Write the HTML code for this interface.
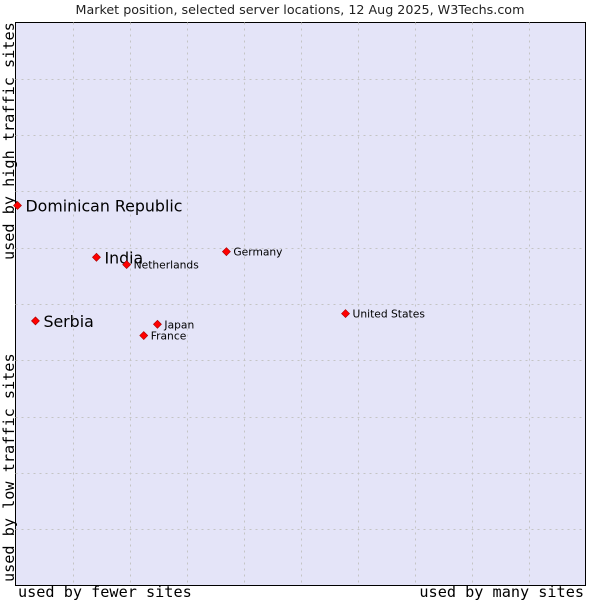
<!DOCTYPE html>
<html><head><meta charset="utf-8"><style>
body{margin:0;background:#fff;}
svg{display:block;}
</style></head><body>
<svg id="c" width="600" height="600" xmlns="http://www.w3.org/2000/svg">
<text x="300" y="14" text-anchor="middle" font-family="DejaVu Sans, sans-serif" font-size="12.7" fill="#222">Market position, selected server locations, 12 Aug 2025, W3Techs.com</text>
<rect x="15.5" y="22.5" width="570" height="563" fill="#e4e4f8" stroke="#000" stroke-width="1"/>
<g id="grid"></g>
<text x="18" y="597" font-family="DejaVu Sans Mono, Liberation Mono, monospace" font-size="15.2" fill="#000">used by fewer sites</text>
<text x="584" y="597" text-anchor="end" font-family="DejaVu Sans Mono, Liberation Mono, monospace" font-size="15.2" fill="#000">used by many sites</text>
<text transform="translate(14,582) rotate(-90)" font-family="DejaVu Sans Mono, Liberation Mono, monospace" font-size="15.2" fill="#000">used by low traffic sites</text>
<text transform="translate(14,260) rotate(-90)" font-family="DejaVu Sans Mono, Liberation Mono, monospace" font-size="15.2" fill="#000">used by high traffic sites</text>
<g id="pts"></g>
</svg>
<script>
const countries=["Dominican Republic","India","Netherlands","Germany","Serbia","Japan","France","United States"];
const xValues=[0.35,14.2,19.5,37.0,3.5,24.9,22.5,57.9];
const yValues=[67.5,58.3,57.0,59.3,47.0,46.4,44.4,48.3];
const highlighted=[true,true,false,false,true,false,false,false];
const NS="http://www.w3.org/2000/svg";
const L=15.5,T=22.5,W=570,H=563;
function sx(v){return L+v/100*W;}
function sy(v){return T+H-v/100*H;}
const grid=document.getElementById('grid');
for(let i=1;i<10;i++){
  const a=document.createElementNS(NS,'line');
  
  
  const x=Math.round(sx(i*10))+0.5;
  a.setAttribute('x1',x);a.setAttribute('x2',x);a.setAttribute('y1',T);a.setAttribute('y2',T+H);
  a.setAttribute('stroke','#c4c4c4');a.setAttribute('stroke-dasharray','2,4');
  grid.appendChild(a);
  const b=document.createElementNS(NS,'line');
  
  
  const y=Math.round(sy(i*10))+0.5;
  b.setAttribute('y1',y);b.setAttribute('y2',y);b.setAttribute('x1',L);b.setAttribute('x2',L+W);
  b.setAttribute('stroke','#c4c4c4');b.setAttribute('stroke-dasharray','2,4');
  grid.appendChild(b);
}
const pts=document.getElementById('pts');
countries.forEach((c,i)=>{
  const x=sx(xValues[i]),y=sy(yValues[i]);
  const d=document.createElementNS(NS,'path');
  
  
  d.setAttribute('d',`M${x} ${y-4}L${x+4} ${y}L${x} ${y+4}L${x-4} ${y}Z`);
  d.setAttribute('fill','#ff0000');d.setAttribute('stroke','#a00');d.setAttribute('stroke-width','0.6');
  pts.appendChild(d);
  const t=document.createElementNS(NS,'text');
  
  
  const big=highlighted[i];
  t.setAttribute('x',x+(big?8:7));
  t.setAttribute('y',y+(big?6:4));
  t.setAttribute('font-family','DejaVu Sans, sans-serif');
  t.setAttribute('font-size',big?15.8:10.7);
  t.setAttribute('fill','#000');
  t.textContent=c;
  pts.appendChild(t);
});
</script>
</body></html>
